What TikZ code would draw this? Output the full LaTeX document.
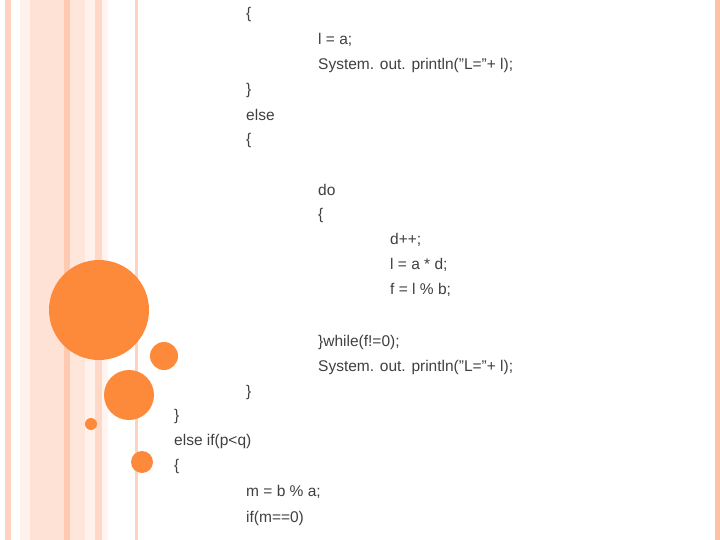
\documentclass[tikz,border=0pt]{standalone}
\usepackage{fontspec}
\setmainfont{Liberation Sans}
\begin{document}
\begin{tikzpicture}[x=1pt,y=-1pt,
  code/.style={anchor=west,inner sep=0pt,text=black!75,font=\fontsize{15.5}{18}\selectfont},
  dot/.style={fill=orange!80!red!70!yellow, draw=none}]
\definecolor{dotc}{HTML}{FD8A3A}
\useasboundingbox (0,0) rectangle (720,540);
\fill[white] (0,0) rectangle (720,540);
\fill[red!40!orange!25] (5,0) rectangle (11,540);
\fill[red!40!orange!8] (20,0) rectangle (30,540);
\fill[red!40!orange!16] (30,0) rectangle (64,540);
\fill[red!40!orange!30] (64,0) rectangle (70,540);
\fill[red!40!orange!14] (70,0) rectangle (85,540);
\fill[red!40!orange!8] (85,0) rectangle (95,540);
\fill[red!40!orange!22] (95,0) rectangle (102,540);
\fill[red!40!orange!6] (102,0) rectangle (108,540);
\fill[red!40!orange!25] (135,0) rectangle (138,540);
\fill[red!40!orange!35] (715,0) rectangle (720,540);
\fill[dotc] (99,310) circle (50);
\fill[dotc] (164,356) circle (14);
\fill[dotc] (129,395) circle (25);
\fill[dotc] (91,424) circle (6);
\fill[dotc] (142,462) circle (11);
\node[code] (t1) at (246,14) {\{};
\node[code] (t2) at (318,40) {l = a;};
\node[code] (t3) at (318,65) {System. out. println("L="+ l);};
\node[code] (t4) at (246,90) {\}};
\node[code] (t5) at (246,115) {else};
\node[code] (t6) at (246,140) {\{};
\node[code] (t7) at (318,190) {do};
\node[code] (t8) at (318,215) {\{};
\node[code] (t9) at (390,240) {d++;};
\node[code] (t10) at (390,265) {l = a * d;};
\node[code] (t11) at (390,290) {f = l \% b;};
\node[code] (t12) at (318,342) {\}while(f!=0);};
\node[code] (t13) at (318,367) {System. out. println("L="+ l);};
\node[code] (t14) at (246,392) {\}};
\node[code] (t15) at (174,416) {\}};
\node[code] (t16) at (174,441) {else if(p<q)};
\node[code] (t17) at (174,466) {\{};
\node[code] (t18) at (246,492) {m = b \% a;};
\node[code] (t19) at (246,518) {if(m==0)};
\end{tikzpicture}
\end{document}
